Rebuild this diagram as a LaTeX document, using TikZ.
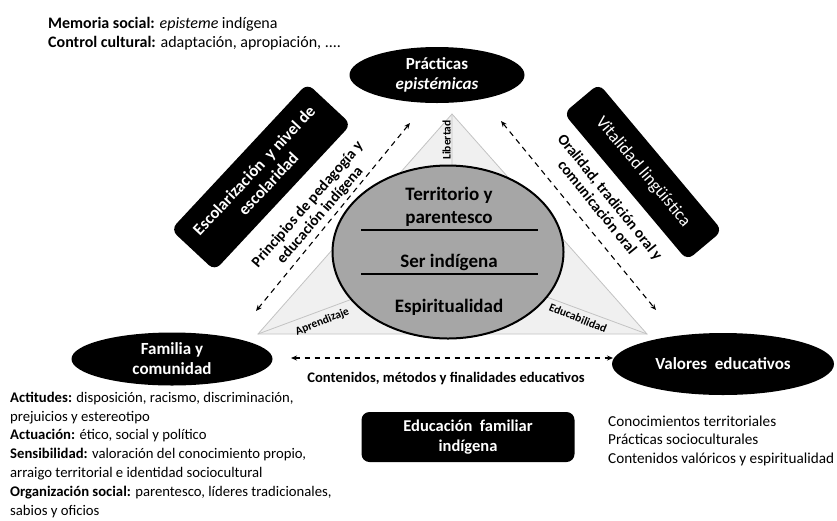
\documentclass[tikz,border=0pt]{standalone}
\usepackage{fontspec}
\setmainfont{Carlito}
\usetikzlibrary{shapes.geometric,arrows.meta}
\definecolor{coregray}{RGB}{166,166,166}
\definecolor{trifill}{RGB}{240,240,240}
\definecolor{triline}{RGB}{195,195,195}
\tikzset{
  blackell/.style={ellipse,fill=black,text=white,font=\bfseries\fontsize{17}{20}\selectfont,align=center,inner sep=0pt},
  blackbox/.style={rectangle,rounded corners=8pt,fill=black,text=white,align=center,inner sep=0pt},
  dasharrow/.style={dash pattern=on 5.5pt off 4.5pt,line width=1.1pt,{Stealth[length=6pt,width=5pt]}-{Stealth[length=6pt,width=5pt]}},
  sidelabel/.style={font=\bfseries\fontsize{15.3}{16.5}\selectfont,align=center,inner sep=0pt},
  facelabel/.style={font=\bfseries\fontsize{11.5}{12}\selectfont,inner sep=1pt},
  listtext/.style={font=\fontsize{14.7}{18.8}\selectfont,align=left,inner sep=0pt,anchor=base west},
  coretext/.style={font=\bfseries\fontsize{19}{23}\selectfont,align=center,inner sep=0pt}
}
\begin{document}
\begin{tikzpicture}[x=1pt,y=-1pt]
\useasboundingbox (0,0) rectangle (837,520);
% top-left text
\node[listtext,font=\fontsize{16}{19}\selectfont] (memo) at (48,47) {\textbf{Memoria social:} \textit{episteme} indígena\\\textbf{Control cultural:} adaptación, apropiación, ....};
% triangle (pyramid)
\coordinate (tA) at (452,114);
\coordinate (tL) at (258,334);
\coordinate (tR) at (647,334);
\coordinate (tC) at (452,262);
\fill[trifill] (tA) -- (tL) -- (tR) -- cycle;
\draw[triline,line width=0.8pt] (tA) -- (tL) -- (tR) -- cycle;
\draw[triline,line width=0.8pt] (tA) -- (tC) (tL) -- (tC) (tR) -- (tC);
\node[facelabel,rotate=90,anchor=south] (lib) at (452,140) {Libertad};
\node[facelabel,rotate=22,anchor=north] (apr) at (320,316) {Aprendizaje};
\node[facelabel,rotate=-22,anchor=north] (edu) at (580,313) {Educabilidad};
% core ellipse
\node[ellipse,draw=black,line width=2pt,fill=coregray,minimum width=231pt,minimum height=173pt,inner sep=0pt] (core) at (448,252) {};
\draw[line width=2pt] (361,230) -- (538,230);
\draw[line width=2pt] (361,274) -- (538,274);
\node[coretext] (terr) at (449,207) {Territorio y\\parentesco};
\node[coretext] (ser) at (449,262) {Ser indígena};
\node[coretext] (esp) at (449,307) {Espiritualidad};
% ellipses
\node[blackell,minimum width=175pt,minimum height=56pt] (prac) at (437,75) {Prácticas\\\textit{epistémicas}};
\node[blackell,minimum width=201pt,minimum height=53pt] (fam) at (172,359) {Familia y\\comunidad};
\node[blackell,minimum width=222pt,minimum height=62pt] (val) at (723,364) {Valores\ \ educativos};
% rotated boxes
\node[blackbox,rotate=47,minimum width=200pt,minimum height=60pt,font=\bfseries\fontsize{16.7}{19.5}\selectfont] (esc) at (261,177) {Escolarización\ \ y nivel de\\escolaridad};
\node[blackbox,rotate=-50,minimum width=192pt,minimum height=46pt,font=\fontsize{17.5}{19}\selectfont] (vit) at (643,172) {Vitalidad lingüística};
% dashed arrows
\coordinate (a1) at (410,123);
\coordinate (a2) at (256,311);
\coordinate (b1) at (501,121);
\coordinate (b2) at (656,310);
\coordinate (c1) at (291,358);
\coordinate (c2) at (613,358);
\draw[dasharrow] (a2) -- (a1);
\draw[dasharrow] (b1) -- (b2);
\draw[dasharrow] (c1) -- (c2);
\node[sidelabel,rotate=49] (prin) at (314,210) {Principios de pedagogía y\\educación indígena};
\node[sidelabel,rotate=-51] (oral) at (604,202) {Oralidad, tradición oral y\\comunicación oral};
\node[font=\bfseries\fontsize{14.6}{16}\selectfont,inner sep=0pt] (cont) at (446,379) {Contenidos, métodos y finalidades educativos};
% bottom box
\node[blackbox,minimum width=213pt,minimum height=50pt,font=\bfseries\fontsize{16.5}{20}\selectfont] (efi) at (468,437) {Educación\ \ familiar\\indígena};
% lists
\node[listtext,font=\fontsize{15.2}{18.5}\selectfont] (right) at (608,463) {Conocimientos territoriales\\Prácticas socioculturales\\Contenidos valóricos y espiritualidad};
\node[listtext] (left) at (10,515) {\textbf{Actitudes:} disposición, racismo, discriminación,\\prejuicios y estereotipo\\\textbf{Actuación:} ético, social y político\\\textbf{Sensibilidad:} valoración del conocimiento propio,\\arraigo territorial e identidad sociocultural\\\textbf{Organización social:} parentesco, líderes tradicionales,\\sabios y oficios};
\end{tikzpicture}
\end{document}
